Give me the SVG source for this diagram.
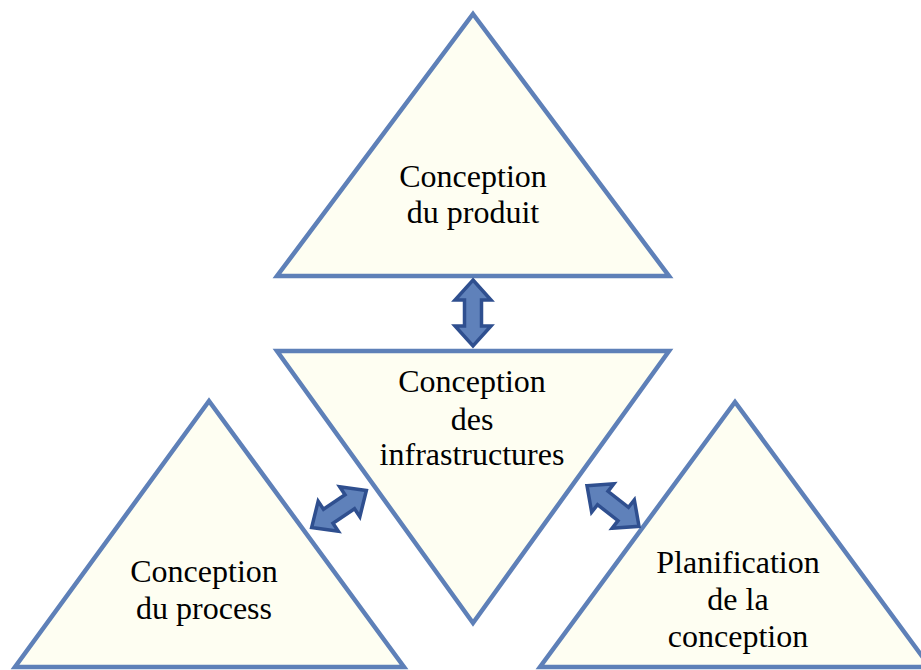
<svg xmlns="http://www.w3.org/2000/svg" width="921" height="670" viewBox="0 0 921 670">
<defs>
<style>
.tri{fill:#FEFEF2;stroke:#5E80B8;stroke-width:4.5;stroke-linejoin:miter}
.lbl{font-family:"Liberation Serif","Times New Roman",serif;font-size:32px;fill:#000;text-anchor:middle}
.arr{fill:#5F81BA;stroke:#2F4F8F;stroke-width:3.5;stroke-linejoin:miter}
</style>
<path id="dblarrow" d="M0,-33 L18,-13 L8.5,-13 L8.5,13 L18,13 L0,33 L-18,13 L-8.5,13 L-8.5,-13 L-18,-13 Z"/>
</defs>
<rect width="921" height="670" fill="#fff"/>
<g id="node-produit">
<polygon class="tri" points="473,14 669,276 277,276"/>
<text class="lbl" x="473" y="187">Conception</text>
<text class="lbl" x="473" y="223">du produit</text>
</g>
<g id="node-infrastructures">
<polygon class="tri" points="277,351 669,351 473,623"/>
<text class="lbl" x="472" y="392">Conception</text>
<text class="lbl" x="472" y="430">des</text>
<text class="lbl" x="472" y="465">infrastructures</text>
</g>
<g id="node-process">
<polygon class="tri" points="209,401 404,667 15,667"/>
<text class="lbl" x="204" y="582">Conception</text>
<text class="lbl" x="204" y="619">du process</text>
</g>
<g id="node-planification">
<polygon class="tri" points="735,402 930,667 540,667"/>
<text class="lbl" x="738" y="573">Planification</text>
<text class="lbl" x="738" y="610">de la</text>
<text class="lbl" x="738" y="647">conception</text>
</g>
<g id="connectors">
<use href="#dblarrow" class="arr" transform="translate(473,313)"/>
<use href="#dblarrow" class="arr" transform="translate(339,509) rotate(56)"/>
<use href="#dblarrow" class="arr" transform="translate(613,506) rotate(-52)"/>
</g>
</svg>
